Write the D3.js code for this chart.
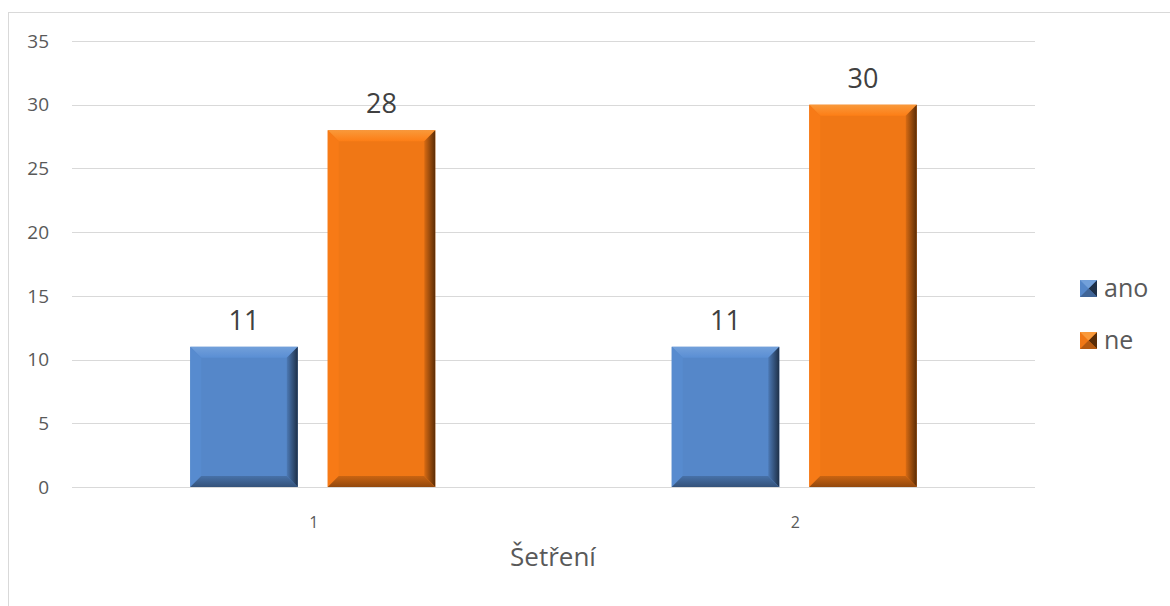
<!DOCTYPE html>
<html>
<head>
<meta charset="utf-8">
<script src="https://cdn.jsdelivr.net/npm/d3@7"></script>
<style>
  html, body { margin: 0; padding: 0; background: #fff; }
  svg { display: block; font-family: "Open Sans", "Noto Sans", sans-serif; }
</style>
</head>
<body>
<svg id="chart" width="1170" height="606"></svg>
<script>
// Survey answers per round ("Šetření")
const categories = ["1", "2"];
const seriesNames = ["ano", "ne"];
const anoValues = [11, 11];
const neValues = [28, 30];
const yTicks = [0, 5, 10, 15, 20, 25, 30, 35];
const xTitle = "Šetření";

const colors = { ano: "#5587c9", ne: "#f07715" };
const dark = { ano: "#1e3048", ne: "#5a2c06" };
const light = { ano: "#72a0da", ne: "#f9993a" };

const svg = d3.select("#chart");
const W = 1170, H = 606;
const plot = { left: 72, right: 1035, top: 41, bottom: 487 };

// chart area outline
svg.append("rect")
  .attr("x", 8.5).attr("y", 12.5)
  .attr("width", W).attr("height", H)
  .attr("fill", "none").attr("stroke", "#d9d9d9").attr("stroke-width", 1);

const y = d3.scaleLinear().domain([0, 35]).range([plot.bottom, plot.top]);
const x0 = d3.scaleBand().domain(categories).range([plot.left, plot.right]);
const x1 = d3.scaleBand().domain(seriesNames).range([0, x0.bandwidth()])
  .paddingInner(0.218).paddingOuter(0.86);

// gridlines
svg.append("g").selectAll("line").data(yTicks).join("line")
  .attr("x1", plot.left).attr("x2", plot.right)
  .attr("y1", d => Math.round(y(d)) + 0.5).attr("y2", d => Math.round(y(d)) + 0.5)
  .attr("stroke", "#d9d9d9").attr("stroke-width", 1);

// y tick labels
svg.append("g").selectAll("text").data(yTicks).join("text")
  .attr("x", 49).attr("y", d => y(d))
  .attr("dy", "0.35em").attr("text-anchor", "end")
  .attr("font-size", 19).attr("fill", "#595959")
  .text(d => d);

// x tick labels
svg.append("g").selectAll("text").data(categories).join("text")
  .attr("x", d => x0(d) + x0.bandwidth() / 2 + 1).attr("y", 522)
  .attr("dy", "0.35em").attr("text-anchor", "middle")
  .attr("font-size", 16).attr("fill", "#595959")
  .text(d => d);

// axis title
svg.append("text")
  .attr("x", 553).attr("y", 557).attr("dy", "0.35em")
  .attr("text-anchor", "middle").attr("font-size", 26).attr("fill", "#595959")
  .text(xTitle);

// gradients for bevelled edges
const defs = svg.append("defs");
seriesNames.forEach(s => {
  const gR = defs.append("linearGradient").attr("id", "gr-" + s)
    .attr("x1", 0).attr("x2", 1).attr("y1", 0).attr("y2", 0);
  gR.append("stop").attr("offset", 0).attr("stop-color", d3.color(colors[s]).darker(0.3));
  gR.append("stop").attr("offset", 1).attr("stop-color", dark[s]);
  const gB = defs.append("linearGradient").attr("id", "gb-" + s)
    .attr("x1", 0).attr("x2", 0).attr("y1", 0).attr("y2", 1);
  gB.append("stop").attr("offset", 0).attr("stop-color", d3.color(colors[s]).darker(0.5));
  gB.append("stop").attr("offset", 1).attr("stop-color", d3.color(colors[s]).darker(1.4));
  const gT = defs.append("linearGradient").attr("id", "gt-" + s)
    .attr("x1", 0).attr("x2", 0).attr("y1", 0).attr("y2", 1);
  gT.append("stop").attr("offset", 0).attr("stop-color", light[s]);
  gT.append("stop").attr("offset", 1).attr("stop-color", d3.color(colors[s]).brighter(0.15));
});

const rows = [];
categories.forEach((c, i) => {
  rows.push({ cat: c, s: "ano", v: anoValues[i] });
  rows.push({ cat: c, s: "ne", v: neValues[i] });
});

const bevel = 11;
const bars = svg.append("g").selectAll("g").data(rows).join("g")
  .attr("transform", d => `translate(${x0(d.cat) + x1(d.s)},0)`);

bars.each(function(d) {
  const g = d3.select(this);
  const w = x1.bandwidth();
  const top = y(d.v), bot = y(0);
  const h = bot - top;
  const b = Math.min(bevel, h / 2);
  g.append("rect").attr("x", 0).attr("y", top).attr("width", w).attr("height", h)
    .attr("fill", colors[d.s]);
  // top face
  g.append("path")
    .attr("d", `M0,${top}L${w},${top}L${w - b},${top + b}L${b},${top + b}Z`)
    .attr("fill", `url(#gt-${d.s})`);
  // left face
  g.append("path")
    .attr("d", `M0,${top}L${b},${top + b}L${b},${bot - b}L0,${bot}Z`)
    .attr("fill", d3.color(colors[d.s]).brighter(0.08));
  // right face
  g.append("path")
    .attr("d", `M${w},${top}L${w},${bot}L${w - b},${bot - b}L${w - b},${top + b}Z`)
    .attr("fill", `url(#gr-${d.s})`);
  // bottom face
  g.append("path")
    .attr("d", `M0,${bot}L${b},${bot - b}L${w - b},${bot - b}L${w},${bot}Z`)
    .attr("fill", `url(#gb-${d.s})`);
  // value label
  g.append("text")
    .attr("x", w / 2).attr("y", top - 17)
    .attr("text-anchor", "middle").attr("font-size", 27).attr("fill", "#404040")
    .text(d.v);
});

// legend
const legend = svg.append("g").selectAll("g").data(seriesNames).join("g")
  .attr("transform", (d, i) => `translate(1080,${280 + i * 52})`);
legend.each(function(s) {
  const g = d3.select(this);
  const k = 17;
  g.append("rect").attr("width", k).attr("height", k).attr("fill", colors[s]);
  g.append("path").attr("d", `M${k},0L${k},${k}L${k / 2},${k / 2}Z`).attr("fill", dark[s]);
  g.append("path").attr("d", `M0,${k}L${k},${k}L${k / 2},${k / 2}Z`).attr("fill", d3.color(colors[s]).darker(0.8));
  g.append("path").attr("d", `M0,0L${k},0L${k / 2},${k / 2}Z`).attr("fill", light[s]);
  g.append("text").attr("x", 24).attr("y", k / 2).attr("dy", "0.35em")
    .attr("font-size", 25).attr("fill", "#595959").text(s);
});
</script>
</body>
</html>
